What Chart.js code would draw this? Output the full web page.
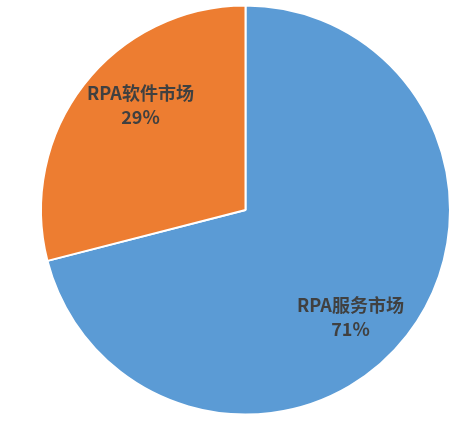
<!DOCTYPE html>
<html>
<head>
<meta charset="utf-8">
<script src="https://cdn.jsdelivr.net/npm/chart.js"></script>
<style>
  html, body { margin: 0; padding: 0; background: #fff; }
  #wrap { width: 474px; height: 421px; }
</style>
</head>
<body>
<div id="wrap"><canvas id="chart"></canvas></div>
<script>
  const labels = ['RPA服务市场', 'RPA软件市场'];
  const shares = [71, 29];
  const colors = ['#5B9BD5', '#ED7D31'];

  // labels sit inside each slice, two lines: name and percent
  const sliceLabels = {
    id: 'sliceLabels',
    afterDatasetsDraw(chart) {
      const ctx = chart.ctx;
      const meta = chart.getDatasetMeta(0);
      ctx.save();
      ctx.fillStyle = '#404040';
      ctx.textAlign = 'center';
      ctx.textBaseline = 'middle';
      ctx.font = 'bold 18px "Noto Sans CJK SC", "Noto Sans", sans-serif';
      meta.data.forEach((arc, i) => {
        const p = arc.getProps(['x', 'y', 'startAngle', 'endAngle', 'outerRadius'], true);
        const a = (p.startAngle + p.endAngle) / 2 + 0.131;
        const r = p.outerRadius * 0.73;
        const x = p.x + Math.cos(a) * r;
        const y = p.y + Math.sin(a) * r;
        ctx.fillText(labels[i], x, y - 11);
        ctx.fillText(shares[i] + '%', x, y + 13);
      });
      ctx.restore();
    }
  };

  const ctx = document.getElementById('chart').getContext('2d');
  new Chart(ctx, {
    type: 'pie',
    data: {
      labels: labels,
      datasets: [{
        data: shares,
        backgroundColor: colors,
        borderColor: '#ffffff',
        borderWidth: 2
      }]
    },
    options: {
      responsive: true,
      maintainAspectRatio: false,
      animation: false,
      layout: { padding: { top: 4, bottom: 5, left: 40, right: 23 } },
      plugins: {
        legend: { display: false },
        tooltip: { enabled: false }
      }
    },
    plugins: [sliceLabels]
  });
</script>
</body>
</html>
